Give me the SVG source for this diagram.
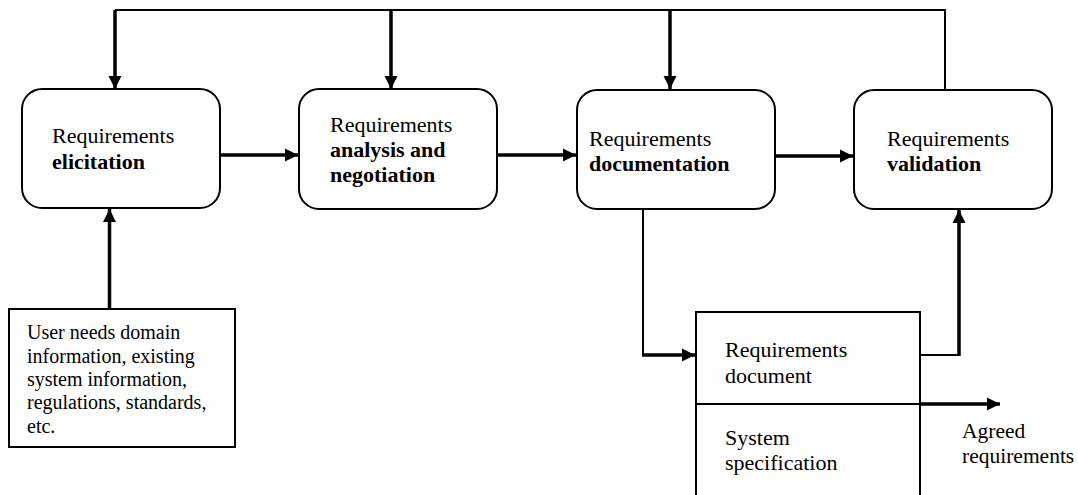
<svg xmlns="http://www.w3.org/2000/svg" width="1078" height="495" viewBox="0 0 1078 495" font-family="'Liberation Serif', 'Times New Roman', serif">
<style>
.t{font-size:22px;font-family:'Liberation Serif','Times New Roman',serif}
.b{font-weight:bold}
.s{font-size:20px;font-family:'Liberation Serif','Times New Roman',serif}
.a{font-size:21.5px;font-family:'Liberation Serif','Times New Roman',serif}
.box{fill:#fff;stroke:#000;stroke-width:2}
.thin{fill:none;stroke:#000;stroke-width:2}
.thick{fill:none;stroke:#000;stroke-width:3.5}
</style>
<defs>
<marker id="ah" markerUnits="userSpaceOnUse" markerWidth="14" markerHeight="14" viewBox="0 0 14 14" refX="13" refY="7" orient="auto">
<path d="M0,0.5 L13,7 L0,13.5 Z" fill="#000"/>
</marker>
</defs>
<g id="connectors">
<path class="thin" d="M945,90 V10 H115"/>
<path class="thick" d="M115,10 V89" marker-end="url(#ah)"/>
<path class="thick" d="M391,10 V89" marker-end="url(#ah)"/>
<path class="thick" d="M670,10 V89" marker-end="url(#ah)"/>
<path class="thick" d="M220,155 H298" marker-end="url(#ah)"/>
<path class="thick" d="M497,155 H576" marker-end="url(#ah)"/>
<path class="thick" d="M775,156 H853" marker-end="url(#ah)"/>
<path class="thick" d="M109.5,309 V209" marker-end="url(#ah)"/>
<path class="thin" d="M643,209 V355"/>
<path class="thick" d="M642,355 H695" marker-end="url(#ah)"/>
<path class="thin" d="M920,355 H959"/>
<path class="thick" d="M959,356 V210" marker-end="url(#ah)"/>
<path class="thick" d="M920,404 H1000" marker-end="url(#ah)"/>
</g>
<g id="n1">
<rect class="box" x="22" y="89" width="198" height="119" rx="20"/>
<text class="t" x="52" y="143">Requirements</text>
<text class="t b" x="52" y="169">elicitation</text>
</g>
<g id="n2">
<rect class="box" x="299" y="89" width="198" height="120" rx="20"/>
<text class="t" x="330" y="132">Requirements</text>
<text class="t b" x="330" y="157">analysis and</text>
<text class="t b" x="330" y="182">negotiation</text>
</g>
<g id="n3">
<rect class="box" x="577" y="90" width="198" height="119" rx="20"/>
<text class="t" x="589" y="146">Requirements</text>
<text class="t b" x="589" y="171">documentation</text>
</g>
<g id="n4">
<rect class="box" x="854" y="90" width="198" height="119" rx="20"/>
<text class="t" x="887" y="146">Requirements</text>
<text class="t b" x="887" y="171">validation</text>
</g>
<g id="input">
<rect class="box" x="9" y="309" width="226" height="138"/>
<text class="s" x="27" y="339">User needs domain</text>
<text class="s" x="27" y="363">information, existing</text>
<text class="s" x="27" y="386">system information,</text>
<text class="s" x="27" y="409">regulations, standards,</text>
<text class="s" x="27" y="433">etc.</text>
</g>
<g id="document">
<path class="thin" d="M696,496 V312 H920 V496"/>
<path class="thin" d="M696,404 H920"/>
<text class="t" x="725" y="357">Requirements</text>
<text class="t" x="725" y="383">document</text>
<text class="t" x="725" y="445">System</text>
<text class="t" x="725" y="470">specification</text>
</g>
<g id="agreed">
<text class="a" x="962" y="438">Agreed</text>
<text class="a" x="962" y="463">requirements</text>
</g>
</svg>
